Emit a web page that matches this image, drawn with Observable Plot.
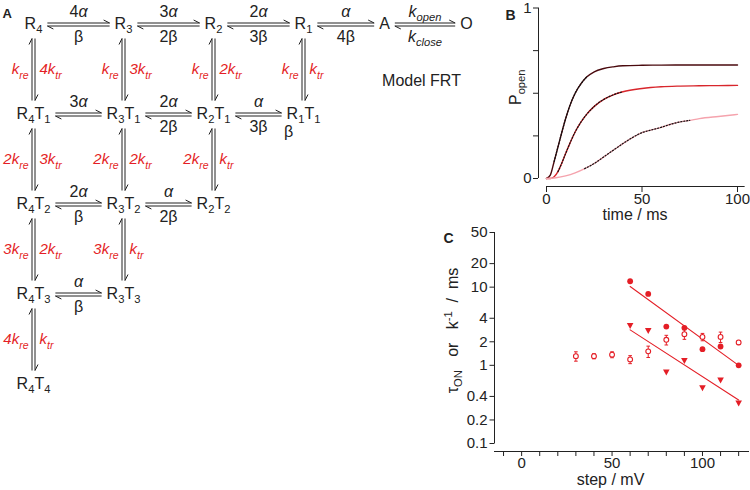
<!DOCTYPE html>
<html><head><meta charset="utf-8">
<script src="https://cdn.jsdelivr.net/npm/d3@7"></script>
<script src="https://cdn.jsdelivr.net/npm/@observablehq/plot@0.6"></script>
<style>
body{margin:0;background:#fff;}
#wrap{position:relative;width:750px;height:490px;overflow:hidden;background:#fff;}
#wrap > svg{position:absolute;overflow:visible;max-width:none;}
</style></head><body><div id="wrap"></div>
<script>
const FONT = '"Liberation Sans", Arial, Helvetica, sans-serif';
const RED = "#e41e26";
const INK = "#222";

// ---------- Panel A: kinetic scheme ----------
const nodeLabels = ["R_4","R_3","R_2","R_1","A","O","R_4T_1","R_3T_1","R_2T_1","R_1T_1","R_4T_2","R_3T_2","R_2T_2","R_4T_3","R_3T_3","R_4T_4"];
const nodeCol = [0,1,2,3,3.9,4.81, 0,1,2,3, 0,1,2, 0,1, 0];
const nodeRow = [0,0,0,0,0,0, 1,1,1,1, 2,2,2, 3,3, 4];
const hFrom  = [0,1,2,3,4, 6,7,8, 10,11, 13];
const hTo    = [1,2,3,4,5, 7,8,9, 11,12, 14];
const hAbove = ["4*α*","3*α*","2*α*","*α*","*k_{open}*", "3*α*","2*α*","*α*", "2*α*","*α*", "*α*"];
const hBelow = ["β","2β","3β","4β","*k_{close}*", "","2β","3β", "β","2β", "β"];
const vFrom  = [0,6,10,13, 1,7,11, 2,8, 3];
const vTo    = [6,10,13,15, 7,11,14, 8,12, 9];
const vLeft  = ["k_{re}","2k_{re}","3k_{re}","4k_{re}","k_{re}","2k_{re}","3k_{re}","k_{re}","2k_{re}","k_{re}"];
const vRight = ["4k_{tr}","3k_{tr}","2k_{tr}","k_{tr}","3k_{tr}","2k_{tr}","k_{tr}","2k_{tr}","k_{tr}","k_{tr}"];
const noteText = ["Model FRT","β"];
const noteCol = [4.311, 2.833];
const noteRow = [0.633, 1.2];

// ---------- Panel B: P_open time courses ----------
const tFast = [0,2,4,6,8,10,12,15,18,21,25,30,35,40,50,60,70,80,90,100];
const pTop  = [0,0.02,0.10,0.185,0.27,0.35,0.42,0.50,0.555,0.595,0.626,0.645,0.655,0.661,0.664,0.665,0.666,0.666,0.666,0.666];
const pMid  = [0,0,0.01,0.04,0.09,0.146,0.20,0.273,0.33,0.376,0.423,0.464,0.491,0.509,0.528,0.538,0.542,0.544,0.545,0.546];
const tSlow = [0,5,10,15,20,25,30,35,40,45,50,55,60,65,70,75,80,90,100];
const pLow  = [0,0.004,0.015,0.033,0.058,0.088,0.127,0.166,0.205,0.24,0.269,0.285,0.30,0.318,0.332,0.341,0.351,0.364,0.376];
const recStart = [3, 6, 17];
const recEnd   = [23, 40, 75];
const traceColors = ["#4a0a0e", "#d8262c", "#f5a3ad"];

// ---------- Panel C: time constants vs step ----------
const stepFilled = [60,70,80,90,100,110,120];
const tauFilled  = [11.9,8.2,3.13,3.02,1.61,1.74,1.0];
const kInvTri    = [3.23,2.79,0.82,1.15,0.515,0.65,0.33];
const stepOpen   = [30,40,50,60,70,80,90,100,110,120];
const tauOpen    = [1.31,1.31,1.37,1.19,1.51,2.12,2.5,2.31,2.31,1.96];
const tauOpenErr = [0.18,0.1,0.12,0.14,0.25,0.3,0.35,0.25,0.35,0.12];
const fitStep  = [60,120];
const fitUpper = [10.2,1.0];
const fitLower = [2.84,0.36];
const cTicks = [0.1,0.2,0.4,1,2,4,10,20,50];
const cTickLabels = ["0.1","0.2","0.4","1","2","4","10","20","50"];

// ---------- rich text helpers ----------
function parseRich(s){
  const segs=[]; let it=false, buf="";
  const flush=()=>{ if(buf){segs.push({t:buf,it,k:0}); buf="";} };
  for(let i=0;i<s.length;i++){
    const c=s[i];
    if(c==="*"){flush(); it=!it; continue;}
    if(c==="_"||c==="^"){
      flush(); let t;
      if(s[i+1]==="{"){ const j=s.indexOf("}",i+2); t=s.slice(i+2,j); i=j; }
      else { t=s[i+1]; i++; }
      segs.push({t,it,k:c==="_"?1:-1}); continue;
    }
    buf+=c;
  }
  flush(); return segs;
}
const AW = {R:.722,T:.611,A:.667,O:.778};
function halfWidth(label,size){
  return parseRich(label).reduce((w,s)=>w+[...s.t].reduce((a,ch)=>a+(AW[ch]||.556),0)*size*(s.k?0.7:1),0)/2;
}
function richify(svg){
  svg.querySelectorAll("text").forEach(el=>{
    if(el.querySelector("tspan")) return;
    const s=el.textContent;
    if(!/[_^*]/.test(s)) return;
    const base=parseFloat(getComputedStyle(el).fontSize)||16;
    el.textContent="";
    let off=0;
    for(const g of parseRich(s)){
      const ts=document.createElementNS("http://www.w3.org/2000/svg","tspan");
      const target = g.k===1 ? base*0.3 : g.k===-1 ? -base*0.38 : 0;
      const d=target-off;
      if(d) ts.setAttribute("dy", d);
      off=target;
      if(g.k) ts.setAttribute("font-size", base*0.7);
      if(g.it) ts.setAttribute("font-style","italic");
      ts.textContent=g.t;
      el.appendChild(ts);
    }
  });
}

const wrap = document.getElementById("wrap");
function place(svg,left,top){
  svg.style.left=left+"px"; svg.style.top=top+"px";
  wrap.appendChild(svg); richify(svg);
}

// ---------- build Panel A ----------
const U = 1/90;
const NFS = 16;
const nodes = nodeLabels.map((label,i)=>({label,x:nodeCol[i],y:nodeRow[i]}));
const hArr = hFrom.map((f,i)=>{
  const t=hTo[i];
  const xL=nodeCol[f]+(halfWidth(nodeLabels[f],NFS)+5)*U;
  const xR=nodeCol[t]-(halfWidth(nodeLabels[t],NFS)+5)*U;
  return {xL,xR,xm:(xL+xR)/2,y:nodeRow[f],above:hAbove[i],below:hBelow[i]};
});
const vArr = vFrom.map((f,i)=>{
  const y1=nodeRow[f]+15*U, y2=nodeRow[vTo[i]]-13*U;
  return {x:nodeCol[f],y1,y2,ym:(y1+y2)/2,left:vLeft[i],right:vRight[i]};
});
const notes = noteText.map((text,i)=>({text,x:noteCol[i],y:noteRow[i]}));
const ln = {stroke:INK, strokeWidth:1};

const plotA = Plot.plot({
  width:500, height:490, margin:0,
  x:{domain:[-33/90,467/90], range:[0,500], axis:null},
  y:{domain:[-23/90,467/90], range:[0,490], axis:null},
  style:{fontFamily:FONT, background:"transparent", color:INK},
  marks:[
    Plot.link(hArr,{x1:"xL",x2:"xR",y1:d=>d.y-0.5*U,y2:d=>d.y-0.5*U,...ln}),
    Plot.link(hArr,{x1:"xR",y1:d=>d.y-0.5*U,x2:d=>d.xR-6*U,y2:d=>d.y-3.5*U,...ln}),
    Plot.link(hArr,{x1:"xL",x2:"xR",y1:d=>d.y+2.5*U,y2:d=>d.y+2.5*U,...ln}),
    Plot.link(hArr,{x1:"xL",y1:d=>d.y+2.5*U,x2:d=>d.xL+6*U,y2:d=>d.y+5.5*U,...ln}),
    Plot.text(hArr,{x:"xm",y:d=>d.y-12*U,text:"above",fontSize:16,fill:INK}),
    Plot.text(hArr,{x:"xm",y:d=>d.y+13*U,text:"below",fontSize:16,fill:INK}),
    Plot.link(vArr,{x1:d=>d.x-1.5*U,x2:d=>d.x-1.5*U,y1:"y1",y2:"y2",...ln}),
    Plot.link(vArr,{x1:d=>d.x-1.5*U,y1:"y1",x2:d=>d.x-4.5*U,y2:d=>d.y1+6*U,...ln}),
    Plot.link(vArr,{x1:d=>d.x+1.5*U,x2:d=>d.x+1.5*U,y1:"y1",y2:"y2",...ln}),
    Plot.link(vArr,{x1:d=>d.x+1.5*U,y1:"y2",x2:d=>d.x+4.5*U,y2:d=>d.y2-6*U,...ln}),
    Plot.text(vArr,{x:d=>d.x-5*U,y:"ym",text:"left",textAnchor:"end",fontSize:15,fontStyle:"italic",fill:RED}),
    Plot.text(vArr,{x:d=>d.x+6*U,y:"ym",text:"right",textAnchor:"start",fontSize:15,fontStyle:"italic",fill:RED}),
    Plot.text(nodes,{x:"x",y:"y",text:"label",fontSize:NFS,fill:INK}),
    Plot.text(notes,{x:"x",y:"y",text:"text",fontSize:16,fill:INK}),
    Plot.text(["A"],{frameAnchor:"top-left",textAnchor:"start",dx:2,dy:8,fontSize:13,fontWeight:"bold",fill:INK})
  ]
});
place(plotA,0,0);

// ---------- build Panel B ----------
const traces = [
  tFast.map((t,i)=>({t,p:pTop[i]})),
  tFast.map((t,i)=>({t,p:pMid[i]})),
  tSlow.map((t,i)=>({t,p:pLow[i]}))
];
const plotB = Plot.plot({
  width:250, height:230, marginLeft:46, marginRight:13, marginTop:7.5, marginBottom:52,
  x:{domain:[0,100]}, y:{domain:[0,1]},
  style:{fontFamily:FONT, background:"transparent", color:INK},
  marks:[
    Plot.ruleX([0],{y1:0,y2:1,dx:-8,stroke:INK}),
    Plot.ruleY([0],{x1:0,x2:104,dy:8,stroke:INK}),
    Plot.axisY({ticks:[0,0.25,0.5,0.75,1],tickFormat:d=>(d===0||d===1)?String(d):"",dx:-8,tickSize:5,tickPadding:2,fontSize:15,label:null}),
    Plot.axisX({ticks:[0,50,100],tickSize:6,dy:8,tickPadding:1,fontSize:15,label:null}),
    ...traces.map((tr,i)=>Plot.line(tr,{x:"t",y:"p",stroke:traceColors[i],strokeWidth:1.4,curve:"monotone-x"})),
    ...traces.map((tr,i)=>Plot.line(tr.filter(d=>d.t>=recStart[i]&&d.t<=recEnd[i]),{x:"t",y:"p",stroke:"#111",strokeWidth:1.2,strokeDasharray:"1.2,1.8",curve:"monotone-x"})),
    Plot.text(["P_{open}"],{frameAnchor:"left",textAnchor:"middle",rotate:-90,dx:-31,dy:-6,fontSize:16,fill:INK}),
    Plot.text(["time / ms"],{frameAnchor:"bottom",dx:-7,dy:41,fontSize:16,fill:INK}),
    Plot.text(["B"],{frameAnchor:"top-left",textAnchor:"start",dx:-41,dy:2.5,fontSize:14,fontWeight:"bold",fill:INK})
  ]
});
place(plotB,500,0);

// ---------- build Panel C ----------
const triDown = {draw(ctx,size){const r=Math.sqrt(size/Math.PI);ctx.moveTo(-r*1.1,-r*0.85);ctx.lineTo(r*1.1,-r*0.85);ctx.lineTo(0,r*1.15);ctx.closePath();}};
const filled = stepFilled.map((s,i)=>({s,v:tauFilled[i]}));
const tri = stepFilled.map((s,i)=>({s,v:kInvTri[i]}));
const open = stepOpen.map((s,i)=>({s,v:tauOpen[i],lo:tauOpen[i]-tauOpenErr[i],hi:tauOpen[i]+tauOpenErr[i]}));
const fitU = fitStep.map((s,i)=>({s,v:fitUpper[i]}));
const fitL = fitStep.map((s,i)=>({s,v:fitLower[i]}));
const yTicksC = cTicks.map((v,i)=>({v,label:cTickLabels[i]}));
const XPX = 141/255; // x units per pixel in panel C
const NB = "\u00A0";
const plotC = Plot.plot({
  width:310, height:270, marginLeft:54, marginRight:1, marginTop:12, marginBottom:47,
  x:{domain:[-15,126], axis:null}, y:{type:"log",domain:[0.1,50], axis:null},
  style:{fontFamily:FONT, background:"transparent", color:INK},
  marks:[
    Plot.ruleX([-15],{y1:0.1,y2:50,stroke:INK}),
    Plot.ruleY([0.1],{x1:-15,x2:126,dy:8,stroke:INK}),
    Plot.link(yTicksC,{x1:-15,x2:-15-5*XPX,y1:"v",y2:"v",stroke:INK}),
    Plot.text(yTicksC,{x:-15,y:"v",text:"label",dx:-7,textAnchor:"end",fontSize:15,fill:INK}),
    Plot.axisX({ticks:d3.range(-10,121,10),tickFormat:d=>d%50===0?String(d):"",tickSize:5,dy:8,tickPadding:1,fontSize:15,label:null}),
    Plot.line(fitU,{x:"s",y:"v",stroke:RED,strokeWidth:1.1}),
    Plot.line(fitL,{x:"s",y:"v",stroke:RED,strokeWidth:1.1}),
    Plot.link(open,{x1:"s",x2:"s",y1:"lo",y2:"hi",stroke:RED,strokeWidth:1}),
    Plot.link(open,{x1:d=>d.s-1,x2:d=>d.s+1,y1:"lo",y2:"lo",stroke:RED,strokeWidth:1}),
    Plot.link(open,{x1:d=>d.s-1,x2:d=>d.s+1,y1:"hi",y2:"hi",stroke:RED,strokeWidth:1}),
    Plot.dot(open,{x:"s",y:"v",r:2.4,stroke:RED,fill:"white",strokeWidth:1.1}),
    Plot.dot(filled,{x:"s",y:"v",r:2.9,fill:RED,stroke:"none"}),
    Plot.dot(tri,{x:"s",y:"v",r:3,symbol:triDown,fill:RED,stroke:"none"}),
    Plot.text([`τ_{ON}${NB}${NB}${NB}or${NB}${NB}${NB}k^{-1}${NB}${NB}/${NB}${NB}ms`],{frameAnchor:"left",textAnchor:"middle",rotate:-90,dx:-42,dy:-7.5,fontSize:16,fill:INK}),
    Plot.text(["step / mV"],{frameAnchor:"bottom",dx:-11.5,dy:41,fontSize:16,fill:INK}),
    Plot.text(["C"],{frameAnchor:"top-left",textAnchor:"start",dx:-51,dy:0.5,fontSize:14,fontWeight:"bold",fill:INK})
  ]
});
place(plotC,440,220);
</script></body></html>
